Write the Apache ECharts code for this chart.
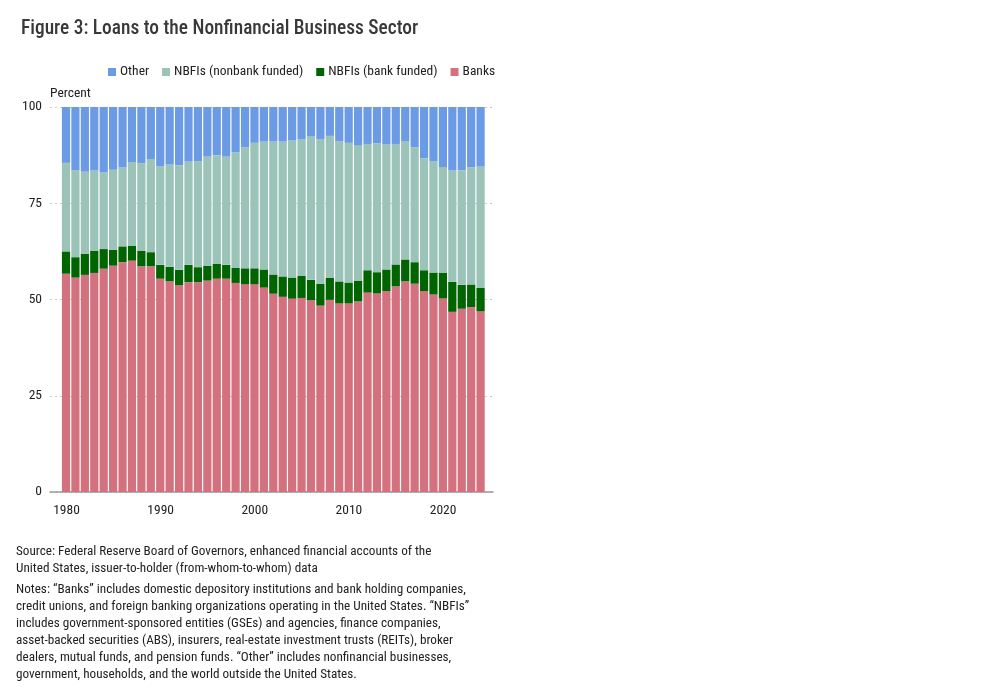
<!DOCTYPE html>
<html>

<head>
  <meta charset="UTF-8">
  <title>Loans to the Nonfinancial Business Sector</title>
  <style>
    body { margin: 0; background: #fff; }
  </style>
</head>

<body>
  <div id="main" style="width: 991px; height: 691px;"></div>
  <script src="https://cdn.jsdelivr.net/npm/echarts@6.0.0/dist/echarts.min.js"></script>
  <script>
    // shares of loans, percent
    const years = [];
    for (let y = 1980; y <= 2024; y++) years.push(y);

    const banks = [56.7, 55.7, 56.4, 56.9, 58.0, 58.8, 59.7, 60.1, 58.6, 58.6,
      55.4, 54.7, 53.7, 54.5, 54.5, 54.9, 55.4, 55.4, 54.3, 54.0,
      54.0, 53.1, 51.5, 50.7, 50.2, 50.4, 49.8, 48.4, 49.9, 49.0,
      49.0, 49.5, 51.8, 51.6, 52.2, 53.4, 54.7, 54.1, 52.2, 51.3,
      50.3, 46.8, 47.6, 48.0, 46.9];
    const nbfiBank = [5.8, 5.3, 5.5, 5.8, 5.1, 4.1, 4.1, 3.8, 4.0, 3.7,
      3.6, 3.8, 4.0, 4.5, 3.9, 3.8, 3.9, 3.6, 3.9, 4.1,
      4.1, 4.7, 5.0, 5.3, 5.5, 5.7, 5.3, 5.7, 5.7, 5.7,
      5.4, 5.4, 5.8, 5.5, 5.6, 5.7, 5.7, 5.6, 5.4, 5.7,
      6.6, 7.8, 6.2, 5.9, 6.1];
    const nbfiNonbank = [23.0, 22.5, 21.3, 20.8, 19.9, 20.8, 20.5, 21.8, 22.8, 24.2,
      25.6, 26.6, 27.2, 26.8, 27.5, 28.4, 28.2, 28.1, 30.0, 31.4,
      32.6, 33.2, 34.5, 35.0, 35.6, 35.5, 37.2, 37.6, 36.9, 36.4,
      36.3, 35.2, 32.8, 33.5, 32.5, 31.3, 30.6, 29.8, 29.1, 28.9,
      27.5, 28.9, 29.8, 30.4, 31.5];
    const other = [14.5, 16.5, 16.8, 16.5, 17.0, 16.3, 15.7, 14.3, 14.6, 13.5,
      15.4, 14.9, 15.1, 14.2, 14.1, 12.9, 12.5, 12.9, 11.8, 10.5,
      9.3, 9.0, 9.0, 9.0, 8.7, 8.4, 7.7, 8.3, 7.5, 8.9,
      9.3, 9.9, 9.6, 9.4, 9.7, 9.6, 9.0, 10.5, 13.3, 14.1,
      15.6, 16.5, 16.4, 15.7, 15.5];

    const decadeTicks = [1980, 1990, 2000, 2010, 2020];

    const font = "'Roboto Condensed', 'Roboto', sans-serif";

    const seriesDefs = [
      { name: 'Banks', data: banks, color: '#d3717f' },
      { name: 'NBFIs (bank funded)', data: nbfiBank, color: '#006400' },
      { name: 'NBFIs (nonbank funded)', data: nbfiNonbank, color: '#9bc3b8' },
      { name: 'Other', data: other, color: '#6b9be4' }
    ];

    const chart = echarts.init(document.getElementById('main'));
    chart.setOption({
      animation: false,
      title: {
        text: 'Figure 3: Loans to the Nonfinancial Business Sector',
        left: 16,
        top: 15,
        textStyle: { fontFamily: font, fontSize: 19.4, fontWeight: 500, color: '#383838' }
      },
      legend: {
        data: ['Other', 'NBFIs (nonbank funded)', 'NBFIs (bank funded)', 'Banks'],
        left: 103,
        top: 60,
        icon: 'rect',
        itemWidth: 8,
        itemHeight: 8,
        itemGap: 13,
        textStyle: { fontFamily: font, fontSize: 13.5, color: '#222', padding: [0, 0, 0, -1] }
      },
      grid: [
        // bars
        { left: 61.3, right: 505.7, top: 107, bottom: 199 },
        // frame: y axis, gridlines, x axis line and labels
        { left: 50, right: 498, top: 107, bottom: 199 }
      ],
      xAxis: [
        { type: 'category', gridIndex: 0, data: years, show: false },
        {
          type: 'value',
          gridIndex: 1,
          min: 1978.25,
          max: 2025.3,
          splitLine: { show: false },
          axisLine: { lineStyle: { color: '#999', width: 1.5 } },
          axisTick: { customValues: decadeTicks, inside: true, length: 4, lineStyle: { color: '#333' } },
          axisLabel: {
            customValues: decadeTicks, margin: 12, fontFamily: font, fontSize: 13.5, color: '#222',
            formatter: v => String(v)
          }
        }
      ],
      yAxis: [
        { type: 'value', gridIndex: 0, min: 0, max: 100, show: false },
        {
          type: 'value',
          gridIndex: 1,
          min: 0,
          max: 100,
          interval: 25,
          name: 'Percent',
          nameLocation: 'end',
          nameGap: 6,
          nameTextStyle: { align: 'left', fontFamily: font, fontSize: 13.5, color: '#222' },
          axisLine: { show: false },
          axisTick: { show: false },
          axisLabel: { margin: 8, fontFamily: font, fontSize: 13.5, color: '#222' },
          splitLine: { lineStyle: { color: '#ccc', type: [2, 3] } }
        }
      ],
      series: seriesDefs.map(s => ({
        name: s.name,
        type: 'bar',
        stack: 'all',
        xAxisIndex: 0,
        yAxisIndex: 0,
        barCategoryGap: 1.2,
        itemStyle: { color: s.color },
        data: s.data
      })),
      graphic: [
        {
          type: 'text', left: 16, top: 543,
          style: {
            text: 'Source: Federal Reserve Board of Governors, enhanced financial accounts of the\nUnited States, issuer-to-holder (from-whom-to-whom) data',
            font: '13.2px ' + font, fill: '#222', lineHeight: 17
          }
        },
        {
          type: 'text', left: 16, top: 581,
          style: {
            text: 'Notes: \u201cBanks\u201d includes domestic depository institutions and bank holding companies,\n' +
              'credit unions, and foreign banking organizations operating in the United States. \u201cNBFIs\u201d\n' +
              'includes government-sponsored entities (GSEs) and agencies, finance companies,\n' +
              'asset-backed securities (ABS), insurers, real-estate investment trusts (REITs), broker\n' +
              'dealers, mutual funds, and pension funds. \u201cOther\u201d includes nonfinancial businesses,\n' +
              'government, households, and the world outside the United States.',
            font: '13.2px ' + font, fill: '#222', lineHeight: 17
          }
        }
      ]
    });
  </script>
</body>

</html>
